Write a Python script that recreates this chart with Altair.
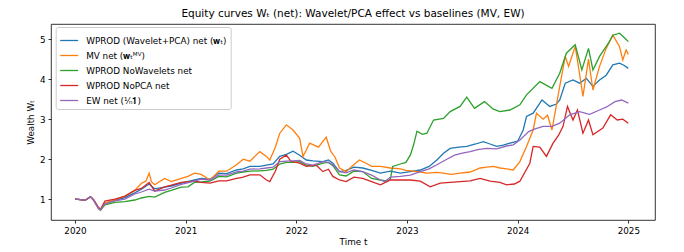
import altair as alt
import pandas as pd

SERIES = [
    "WPROD (Wavelet+PCA) net (𝐰ₜ)",
    "MV net (𝐰ₜᴹⱽ)",
    "WPROD NoWavelets net",
    "WPROD NoPCA net",
    "EW net (¹⁄ₙ𝟏)",
]
COLORS = ["#1f77b4", "#ff7f0e", "#2ca02c", "#d62728", "#9467bd"]

X_TICKS = [2020, 2021, 2022, 2023, 2024, 2025]
Y_TICKS = [1, 2, 3, 4, 5]

# (time in fractional years, wealth)
blue = [(2020.0, 1.0), (2020.05, 0.99), (2020.09, 0.97), (2020.14, 1.06), (2020.17, 0.97), (2020.21, 0.79),
        (2020.23, 0.74), (2020.27, 0.89), (2020.36, 0.97), (2020.45, 1.04), (2020.54, 1.16), (2020.6, 1.25),
        (2020.67, 1.38), (2020.72, 1.26), (2020.81, 1.3), (2020.87, 1.33), (2020.96, 1.4), (2021.08, 1.48),
        (2021.14, 1.52), (2021.22, 1.5), (2021.3, 1.65), (2021.37, 1.64), (2021.46, 1.73), (2021.52, 1.76),
        (2021.58, 1.82), (2021.67, 1.82), (2021.73, 1.85), (2021.79, 1.88), (2021.85, 2.07), (2021.91, 2.12),
        (2021.97, 2.2), (2022.03, 2.1), (2022.09, 1.98), (2022.15, 1.96), (2022.24, 1.94), (2022.29, 1.98),
        (2022.33, 1.9), (2022.39, 1.69), (2022.45, 1.72), (2022.52, 1.8), (2022.6, 1.78), (2022.68, 1.72),
        (2022.76, 1.65), (2022.85, 1.7), (2022.94, 1.65), (2023.03, 1.69), (2023.12, 1.73), (2023.2, 1.82),
        (2023.27, 1.98), (2023.33, 2.15), (2023.39, 2.27), (2023.47, 2.3), (2023.54, 2.32), (2023.62, 2.38),
        (2023.69, 2.44), (2023.75, 2.38), (2023.81, 2.32), (2023.87, 2.35), (2023.93, 2.4), (2024.0, 2.45),
        (2024.05, 2.73), (2024.08, 3.07), (2024.14, 3.15), (2024.22, 3.48), (2024.29, 3.32), (2024.35, 3.38),
        (2024.38, 3.48), (2024.43, 3.9), (2024.5, 3.98), (2024.56, 3.9), (2024.62, 4.02), (2024.68, 3.82),
        (2024.74, 3.98), (2024.8, 4.1), (2024.86, 4.36), (2024.92, 4.4), (2024.96, 4.35), (2025.0, 4.27)]

orange = [(2020.0, 1.0), (2020.05, 0.99), (2020.09, 0.97), (2020.14, 1.06), (2020.17, 0.97), (2020.21, 0.78),
          (2020.23, 0.73), (2020.27, 0.9), (2020.36, 0.99), (2020.45, 1.08), (2020.54, 1.22), (2020.6, 1.4),
          (2020.64, 1.45), (2020.67, 1.65), (2020.69, 1.44), (2020.72, 1.36), (2020.81, 1.52), (2020.87, 1.44),
          (2020.96, 1.52), (2021.02, 1.57), (2021.08, 1.65), (2021.14, 1.62), (2021.22, 1.48), (2021.3, 1.7),
          (2021.37, 1.7), (2021.46, 1.86), (2021.52, 2.0), (2021.58, 1.95), (2021.67, 2.19), (2021.73, 2.07),
          (2021.76, 1.98), (2021.81, 2.3), (2021.85, 2.65), (2021.91, 2.86), (2021.97, 2.73), (2022.03, 2.52),
          (2022.06, 2.07), (2022.09, 2.23), (2022.12, 2.4), (2022.2, 2.3), (2022.27, 2.55), (2022.31, 2.2),
          (2022.35, 2.05), (2022.39, 1.78), (2022.45, 1.69), (2022.5, 1.82), (2022.57, 1.98), (2022.63, 1.9),
          (2022.68, 1.82), (2022.76, 1.82), (2022.85, 1.78), (2022.94, 1.76), (2022.99, 1.72), (2023.06, 1.7),
          (2023.12, 1.68), (2023.18, 1.65), (2023.27, 1.67), (2023.33, 1.65), (2023.4, 1.62), (2023.48, 1.65),
          (2023.57, 1.68), (2023.66, 1.78), (2023.72, 1.8), (2023.78, 1.82), (2023.84, 1.78), (2023.9, 1.76),
          (2023.96, 1.73), (2024.02, 1.94), (2024.08, 2.32), (2024.14, 2.73), (2024.17, 3.15), (2024.23, 3.0),
          (2024.27, 3.1), (2024.31, 2.73), (2024.38, 3.82), (2024.43, 4.57), (2024.46, 4.32), (2024.52, 4.82),
          (2024.55, 4.3), (2024.59, 3.57), (2024.64, 4.5), (2024.68, 3.73), (2024.74, 4.32), (2024.8, 4.77),
          (2024.86, 5.1), (2024.92, 4.82), (2024.95, 4.48), (2024.98, 4.73), (2025.0, 4.62)]

green = [(2020.0, 1.0), (2020.05, 0.99), (2020.09, 0.97), (2020.14, 1.06), (2020.17, 0.97), (2020.21, 0.77),
         (2020.23, 0.72), (2020.27, 0.86), (2020.36, 0.92), (2020.45, 0.94), (2020.54, 0.98), (2020.6, 1.03),
         (2020.67, 1.07), (2020.72, 1.05), (2020.81, 1.17), (2020.87, 1.22), (2020.96, 1.3), (2021.02, 1.31),
         (2021.08, 1.42), (2021.14, 1.43), (2021.22, 1.45), (2021.3, 1.57), (2021.37, 1.56), (2021.46, 1.65),
         (2021.52, 1.68), (2021.58, 1.7), (2021.67, 1.71), (2021.73, 1.72), (2021.79, 1.75), (2021.85, 1.88),
         (2021.91, 1.92), (2021.97, 1.92), (2022.03, 1.94), (2022.09, 1.85), (2022.15, 1.82), (2022.24, 1.9),
         (2022.29, 1.92), (2022.33, 1.84), (2022.39, 1.61), (2022.45, 1.58), (2022.52, 1.7), (2022.6, 1.69),
         (2022.68, 1.52), (2022.76, 1.48), (2022.82, 1.45), (2022.85, 1.5), (2022.87, 1.82), (2022.94, 1.88),
         (2022.99, 1.92), (2023.03, 2.1), (2023.06, 2.36), (2023.09, 2.7), (2023.14, 2.62), (2023.18, 2.65),
         (2023.24, 2.98), (2023.33, 3.02), (2023.39, 3.19), (2023.48, 3.32), (2023.54, 3.55), (2023.61, 3.27),
         (2023.7, 3.44), (2023.78, 3.25), (2023.84, 3.19), (2023.93, 3.23), (2024.02, 3.36), (2024.08, 3.61),
         (2024.2, 3.94), (2024.31, 3.77), (2024.38, 4.15), (2024.44, 4.65), (2024.52, 4.86), (2024.58, 4.23),
         (2024.64, 4.77), (2024.68, 4.23), (2024.74, 4.57), (2024.82, 4.9), (2024.86, 5.1), (2024.92, 5.15),
         (2024.96, 5.05), (2025.0, 4.94)]

red = [(2020.0, 1.0), (2020.05, 0.99), (2020.09, 0.97), (2020.14, 1.06), (2020.17, 0.98), (2020.21, 0.8),
       (2020.23, 0.75), (2020.27, 0.95), (2020.36, 1.0), (2020.45, 1.07), (2020.54, 1.22), (2020.6, 1.27),
       (2020.67, 1.42), (2020.72, 1.2), (2020.81, 1.31), (2020.87, 1.35), (2020.96, 1.42), (2021.08, 1.45),
       (2021.14, 1.42), (2021.22, 1.4), (2021.3, 1.46), (2021.37, 1.46), (2021.46, 1.52), (2021.52, 1.55),
       (2021.58, 1.61), (2021.67, 1.61), (2021.73, 1.48), (2021.76, 1.44), (2021.81, 1.7), (2021.85, 2.0),
       (2021.91, 2.1), (2021.95, 1.95), (2022.03, 1.9), (2022.09, 1.82), (2022.18, 1.85), (2022.24, 1.69),
       (2022.29, 1.75), (2022.33, 1.57), (2022.39, 1.48), (2022.45, 1.44), (2022.52, 1.55), (2022.6, 1.52),
       (2022.68, 1.44), (2022.76, 1.36), (2022.85, 1.48), (2022.94, 1.48), (2023.03, 1.48), (2023.12, 1.45),
       (2023.21, 1.31), (2023.3, 1.4), (2023.39, 1.42), (2023.48, 1.44), (2023.57, 1.46), (2023.66, 1.52),
       (2023.75, 1.45), (2023.84, 1.42), (2023.9, 1.36), (2023.97, 1.38), (2024.02, 1.45), (2024.11, 1.9),
       (2024.14, 2.32), (2024.2, 2.3), (2024.26, 2.07), (2024.32, 2.4), (2024.37, 2.6), (2024.41, 2.82),
       (2024.45, 3.32), (2024.5, 2.98), (2024.54, 3.23), (2024.59, 2.65), (2024.64, 2.98), (2024.68, 2.61),
       (2024.77, 2.78), (2024.84, 3.11), (2024.9, 2.98), (2024.95, 3.0), (2025.0, 2.9)]

purple = [(2020.0, 1.0), (2020.05, 0.99), (2020.09, 0.97), (2020.14, 1.06), (2020.17, 0.97), (2020.21, 0.78),
          (2020.23, 0.73), (2020.27, 0.88), (2020.36, 0.96), (2020.45, 1.0), (2020.54, 1.13), (2020.6, 1.18),
          (2020.67, 1.25), (2020.72, 1.2), (2020.81, 1.23), (2020.87, 1.28), (2020.96, 1.37), (2021.08, 1.45),
          (2021.14, 1.5), (2021.22, 1.48), (2021.3, 1.6), (2021.37, 1.6), (2021.46, 1.68), (2021.52, 1.7),
          (2021.58, 1.75), (2021.67, 1.76), (2021.73, 1.78), (2021.79, 1.8), (2021.85, 1.94), (2021.91, 1.95),
          (2021.97, 1.96), (2022.03, 1.97), (2022.09, 1.88), (2022.15, 1.85), (2022.24, 1.94), (2022.29, 1.92),
          (2022.33, 1.86), (2022.39, 1.69), (2022.45, 1.66), (2022.52, 1.73), (2022.6, 1.69), (2022.68, 1.6),
          (2022.76, 1.48), (2022.8, 1.44), (2022.85, 1.55), (2022.94, 1.57), (2023.03, 1.6), (2023.12, 1.69),
          (2023.2, 1.76), (2023.27, 1.86), (2023.36, 2.0), (2023.43, 2.1), (2023.5, 2.15), (2023.57, 2.19),
          (2023.64, 2.24), (2023.72, 2.27), (2023.81, 2.26), (2023.9, 2.33), (2023.96, 2.36), (2024.02, 2.48),
          (2024.1, 2.69), (2024.15, 2.75), (2024.23, 2.82), (2024.31, 2.82), (2024.38, 2.9), (2024.47, 3.11),
          (2024.56, 3.19), (2024.65, 3.12), (2024.74, 3.23), (2024.8, 3.3), (2024.88, 3.44), (2024.94, 3.48),
          (2025.0, 3.4)]

rows = []
for name, pts in zip(SERIES, [blue, orange, green, red, purple]):
    for t, w in pts:
        rows.append({"series": name, "t": t, "w": w})
df = pd.DataFrame(rows)

FONT = "DejaVu Sans"

chart = alt.Chart(df).mark_line(strokeWidth=1.3, clip=True).encode(
    x=alt.X("t:Q",
            scale=alt.Scale(domain=[2019.783, 2025.241], nice=False, zero=False),
            axis=alt.Axis(values=X_TICKS, format="d", title="Time t")),
    y=alt.Y("w:Q",
            scale=alt.Scale(domain=[0.48, 5.38], nice=False, zero=False),
            axis=alt.Axis(values=Y_TICKS, format="d", title="Wealth Wₜ")),
    color=alt.Color("series:N",
                    scale=alt.Scale(domain=SERIES, range=COLORS),
                    sort=SERIES,
                    legend=alt.Legend(title=None, orient="none", legendX=4.7, legendY=3)),
).properties(
    width=604,
    height=196,
    title=alt.TitleParams("Equity curves Wₜ (net): Wavelet/PCA effect vs baselines (MV, EW)"),
    autosize=alt.AutoSizeParams(type="none"),
    padding={"left": 43, "top": 16, "right": 21, "bottom": 28},
).configure_view(
    stroke="black", strokeWidth=0.8
).configure_axis(
    domain=False, grid=False,
    tickColor="black", tickSize=3, tickWidth=0.8,
    labelColor="black", labelFont=FONT, labelFontSize=8.8, labelPadding=3,
    titleColor="black", titleFont=FONT, titleFontSize=8.8, titleFontWeight="normal",
).configure_axisX(titlePadding=3).configure_axisY(titlePadding=4).configure_title(
    font=FONT, fontSize=10.5, fontWeight="normal", color="black", anchor="middle", offset=5
).configure_legend(
    labelFont=FONT, labelFontSize=8.8, labelColor="black", labelOffset=7, labelLimit=400,
    symbolType="stroke", symbolSize=324, symbolStrokeWidth=1.3,
    padding=3.5, rowPadding=-3,
    fillColor="white", strokeColor="#cccccc", cornerRadius=2,
)

chart.save("out.html", embed_options={"renderer": "svg", "actions": False})
